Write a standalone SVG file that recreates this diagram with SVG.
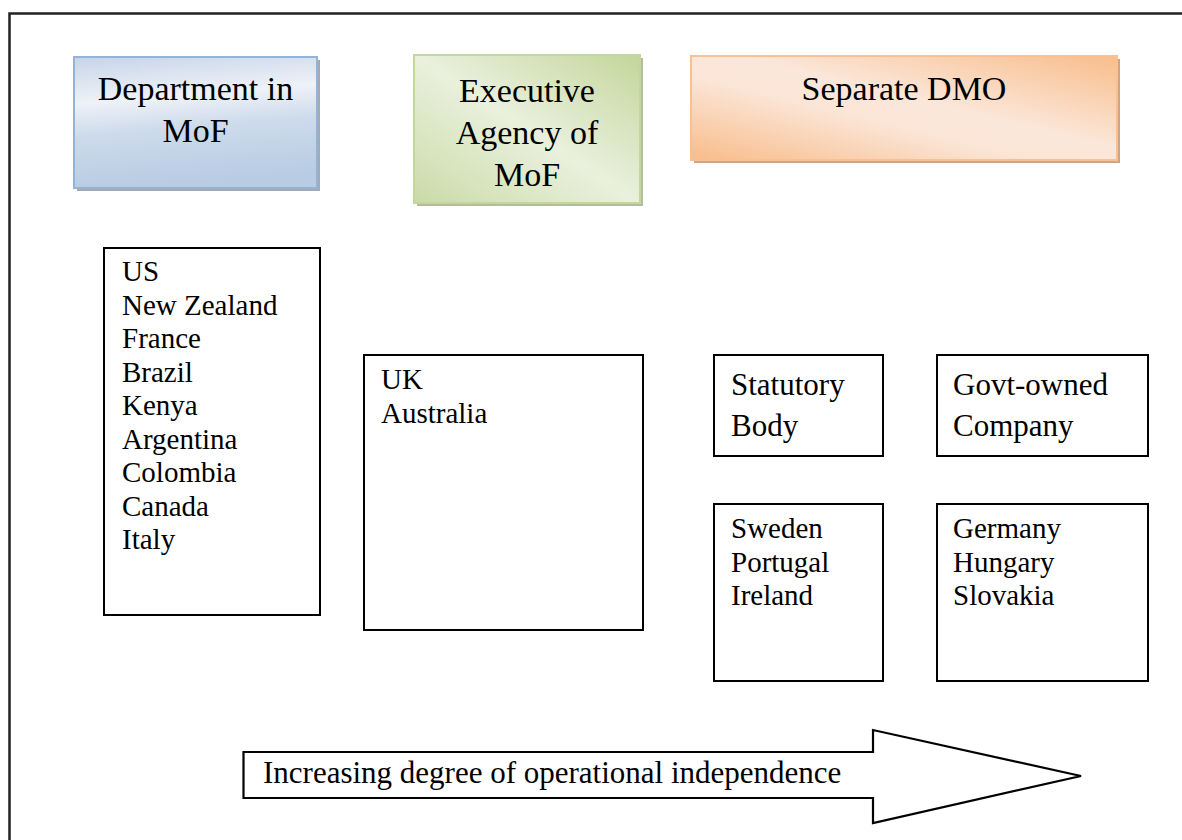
<svg xmlns="http://www.w3.org/2000/svg" width="1182" height="840" viewBox="0 0 1182 840">
<defs>
<linearGradient id="gBlue" x1="0" y1="0" x2="0.15" y2="1">
<stop offset="0" stop-color="#c6d4e8"/>
<stop offset="0.35" stop-color="#eef2f8"/>
<stop offset="0.6" stop-color="#cddaeb"/>
<stop offset="1" stop-color="#b8cce4"/>
</linearGradient>
<linearGradient id="gGreen" x1="1" y1="0" x2="0" y2="1">
<stop offset="0" stop-color="#c3d69b"/>
<stop offset="0.5" stop-color="#eaf0dd"/>
<stop offset="0.8" stop-color="#d7e4bd"/>
<stop offset="1" stop-color="#c9daa7"/>
</linearGradient>
<linearGradient id="gOrange" x1="1" y1="0" x2="0" y2="1">
<stop offset="0" stop-color="#f8bd8b"/>
<stop offset="0.45" stop-color="#fbe7da"/>
<stop offset="0.6" stop-color="#fbe5d6"/>
<stop offset="1" stop-color="#f8bc8a"/>
</linearGradient>
<style>
text{font-family:"Liberation Serif","DejaVu Serif",serif;fill:#000}
.h{font-size:34px;text-anchor:middle}
.l{font-size:29px}
.m{font-size:31px}
.box{fill:#fff;stroke:#000;stroke-width:2}
</style>
</defs>
<g id="frame" fill="none" stroke="#222" stroke-width="2.5">
<path d="M9.5 840 V13.5 H1182"/>
</g>
<g id="dept">
<rect x="77" y="60" width="243" height="131" fill="#a3aab5"/>
<rect x="74" y="57" width="243" height="131" fill="url(#gBlue)" stroke="#95b3d7" stroke-width="2"/>
<text class="h" x="195.5" y="100">Department in</text>
<text class="h" x="195.5" y="142">MoF</text>
</g>
<g id="exec">
<rect x="417" y="58" width="226" height="148" fill="#b5bb9d"/>
<rect x="414" y="55" width="226" height="148" fill="url(#gGreen)" stroke="#c3d69b" stroke-width="2"/>
<text class="h" x="527" y="102">Executive</text>
<text class="h" x="527" y="144">Agency of</text>
<text class="h" x="527" y="186">MoF</text>
</g>
<g id="dmo">
<rect x="694" y="59" width="426" height="104" fill="#cfa585"/>
<rect x="691" y="56" width="426" height="104" fill="url(#gOrange)" stroke="#fac08f" stroke-width="2"/>
<text class="h" x="904" y="100">Separate DMO</text>
</g>
<g id="list1">
<rect class="box" x="104" y="248" width="216" height="367"/>
<text class="l">
<tspan x="122" y="281">US</tspan>
<tspan x="122" y="314.5">New Zealand</tspan>
<tspan x="122" y="348">France</tspan>
<tspan x="122" y="381.5">Brazil</tspan>
<tspan x="122" y="415">Kenya</tspan>
<tspan x="122" y="448.5">Argentina</tspan>
<tspan x="122" y="482">Colombia</tspan>
<tspan x="122" y="515.5">Canada</tspan>
<tspan x="122" y="549">Italy</tspan>
</text>
</g>
<g id="list2">
<rect class="box" x="364" y="355" width="279" height="275"/>
<text class="l">
<tspan x="381" y="389">UK</tspan>
<tspan x="381" y="422.5">Australia</tspan>
</text>
</g>
<g id="statutory">
<rect class="box" x="714" y="355" width="169" height="101"/>
<text class="m">
<tspan x="731" y="395">Statutory</tspan>
<tspan x="731" y="436">Body</tspan>
</text>
</g>
<g id="govt">
<rect class="box" x="937" y="355" width="211" height="101"/>
<text class="m">
<tspan x="953" y="395">Govt-owned</tspan>
<tspan x="953" y="436">Company</tspan>
</text>
</g>
<g id="list3">
<rect class="box" x="714" y="504" width="169" height="177"/>
<text class="l">
<tspan x="731" y="538">Sweden</tspan>
<tspan x="731" y="571.5">Portugal</tspan>
<tspan x="731" y="605">Ireland</tspan>
</text>
</g>
<g id="list4">
<rect class="box" x="937" y="504" width="211" height="177"/>
<text class="l">
<tspan x="953" y="538">Germany</tspan>
<tspan x="953" y="571.5">Hungary</tspan>
<tspan x="953" y="605">Slovakia</tspan>
</text>
</g>
<g id="connectors">
<path d="M243.5 752 H873 V730 L1081 776 L873 823 V798 H243.5 Z" fill="#fff" stroke="#000" stroke-width="2.2"/>
<text class="m" x="263" y="783">Increasing degree of operational independence</text>
</g>
</svg>
